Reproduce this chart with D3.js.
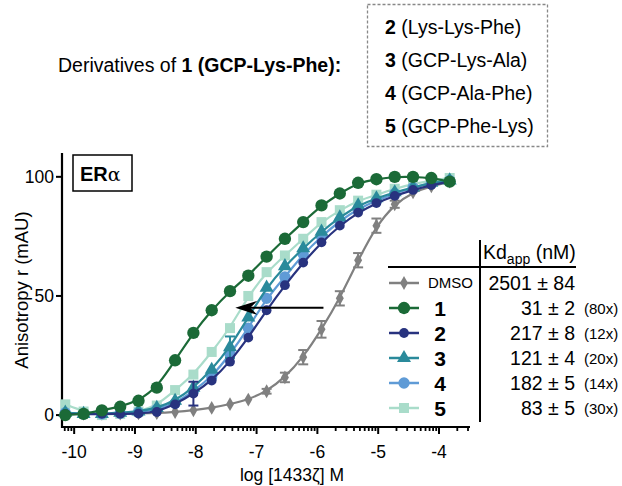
<!DOCTYPE html>
<html>
<head>
<meta charset="utf-8">
<script src="https://cdn.jsdelivr.net/npm/d3@7"></script>
<style>
body{margin:0;background:#fff;}
svg{display:block;font-family:"Liberation Sans",Arial,sans-serif;}
</style>
</head>
<body>
<script>
// log [1433ζ] M, 2-fold dilution series
var logConc = [-10.146, -9.845, -9.544, -9.243, -8.942, -8.641, -8.340, -8.039, -7.738, -7.437, -7.136,
  -6.835, -6.534, -6.233, -5.932, -5.631, -5.330, -5.029, -4.728, -4.427, -4.126, -3.824];

var dmso = [0.5, 0.5, 0.5, 0.6, 0.7, 0.8, 1.3, 2, 3, 4.6, 6.5, 10, 15.8, 24.3, 36, 49, 65, 79.5, 88.5, 93.5, 96, 98];
var dmsoErr = [0, 0, 0, 0, 0, 0, 0, 0, 0, 0, 0, 1, 2, 3, 3.5, 3, 3, 3, 1.5, 0, 0, 0];
var cpd1 = [0, 0.5, 2, 3.5, 6, 11.5, 23, 34.5, 44, 52, 58.5, 66.5, 74, 81, 88, 93, 97.5, 99, 100, 100, 99.5, 98];
var cpd2 = [0.5, 0.3, 0.5, 0.5, 0.6, 1.3, 4.5, 9, 14.5, 22.4, 32.5, 44, 54.5, 64, 72.5, 79.5, 85, 89, 92, 94.5, 96.5, 98];
var cpd2Err = [0, 0, 0, 0, 0, 0, 0, 5, 0, 0, 0, 0, 0, 0, 0, 0, 0, 0, 0, 0, 0, 0];
var cpd3 = [1, 0.5, 0.5, 1, 1.5, 3, 6, 11.5, 19, 28.5, 41, 53.5, 62.5, 70, 77, 83, 88, 91, 93.5, 95.5, 97.5, 98.5];
var cpd3Err = [0, 0, 0, 0, 0, 0, 0, 0, 0, 4.5, 0, 0, 0, 0, 0, 0, 0, 0, 0, 0, 0, 0];
var cpd4 = [1, 0.5, 0.5, 0.8, 1.2, 2.5, 5, 10, 16, 25.5, 36.5, 49, 58, 67.5, 75, 81.5, 86.5, 90, 93, 95.5, 97.5, 98.5];
var cpd5 = [4.5, 1.5, 0, 0.5, 1.5, 4, 10.5, 17, 26.5, 36.5, 50, 60, 67, 74, 81, 86, 90, 92.5, 95, 97, 98.5, 99.5];

var seriesNames = ["DMSO", "1", "2", "3", "4", "5"];
var kdValues = ["2501 ± 84", "31 ± 2", "217 ± 8", "121 ± 4", "182 ± 5", "83 ± 5"];
var foldValues = ["", "(80x)", "(12x)", "(20x)", "(14x)", "(30x)"];
var derivNames = ["(Lys-Lys-Phe)", "(GCP-Lys-Ala)", "(GCP-Ala-Phe)", "(GCP-Phe-Lys)"];
var xTicks = [-10, -9, -8, -7, -6, -5, -4];
var yTicks = [0, 50, 100];

var colors = ["#808080", "#1b6a37", "#28337f", "#2a8a9b", "#5f9bd6", "#a9dcca"];
var shapes = [d3.symbolDiamond, d3.symbolCircle, d3.symbolCircle, d3.symbolTriangle, d3.symbolCircle, d3.symbolSquare];
var sizes = [55, 120, 75, 85, 100, 100];

var series = [
  {vals: dmso, err: dmsoErr},
  {vals: cpd1, err: null},
  {vals: cpd2, err: cpd2Err},
  {vals: cpd3, err: cpd3Err},
  {vals: cpd4, err: null},
  {vals: cpd5, err: null}
];

var svg = d3.select("body").append("svg").attr("width", 622).attr("height", 486);

var x = d3.scaleLinear().domain([-10.2, -3.49]).range([62, 470]);
var y = d3.scaleLinear().domain([-5, 110]).range([427, 153]);

// header text
var title = svg.append("text").attr("x", 58).attr("y", 72).attr("font-size", 19.5);
title.append("tspan").text("Derivatives of ");
title.append("tspan").attr("font-weight", "bold").text("1 (GCP-Lys-Phe):");

svg.append("rect").attr("x", 367.5).attr("y", 4.5).attr("width", 180).attr("height", 142)
  .attr("fill", "none").attr("stroke", "#888").attr("stroke-dasharray", "3,2").attr("stroke-width", 1.3);

derivNames.forEach(function(n, i){
  var t = svg.append("text").attr("x", 385).attr("y", 34 + i * 33).attr("font-size", 19.5);
  t.append("tspan").attr("font-weight", "bold").text(i + 2);
  t.append("tspan").text(" " + n);
});

// axes
var gx = svg.append("g").attr("transform", "translate(0,427)");
gx.append("line").attr("x1", 62).attr("x2", 470).attr("stroke", "#000").attr("stroke-width", 2.2);
var minor = [];
for(var d = -11; d <= -4; d++){
  for(var k = 2; k <= 9; k++){
    var v = d + Math.log10(k);
    if(v > -10.2 && v < -3.49) minor.push(v);
  }
}
gx.selectAll(".mn").data(minor).enter().append("line")
  .attr("x1", function(d){return x(d);}).attr("x2", function(d){return x(d);})
  .attr("y1", 0).attr("y2", 4).attr("stroke", "#000").attr("stroke-width", 1.8);
gx.selectAll(".mj").data(xTicks).enter().append("line")
  .attr("x1", function(d){return x(d);}).attr("x2", function(d){return x(d);})
  .attr("y1", 0).attr("y2", 7).attr("stroke", "#000").attr("stroke-width", 2);
gx.selectAll(".tl").data(xTicks).enter().append("text")
  .attr("x", function(d){return x(d);}).attr("y", 31).attr("text-anchor", "middle")
  .attr("font-size", 17.5).text(function(d){return d;});

var gy = svg.append("g");
gy.append("line").attr("x1", 62).attr("x2", 62).attr("y1", 153).attr("y2", 428).attr("stroke", "#000").attr("stroke-width", 2.2);
gy.selectAll(".yt").data(yTicks).enter().append("line")
  .attr("x1", 56).attr("x2", 62).attr("y1", function(d){return y(d);}).attr("y2", function(d){return y(d);})
  .attr("stroke", "#000").attr("stroke-width", 2);
gy.selectAll(".yl").data(yTicks).enter().append("text")
  .attr("x", 54).attr("y", function(d){return y(d) + 6;}).attr("text-anchor", "end")
  .attr("font-size", 17.5).text(function(d){return d;});

svg.append("text").attr("transform", "translate(28,290) rotate(-90)").attr("text-anchor", "middle")
  .attr("font-size", 18.5).text("Anisotropy r (mAU)");
svg.append("text").attr("x", 292).attr("y", 481).attr("text-anchor", "middle").attr("font-size", 17.5)
  .text("log [1433ζ] M");

// ERα label
svg.append("rect").attr("x", 73).attr("y", 155).attr("width", 59).attr("height", 36)
  .attr("fill", "#fff").attr("stroke", "#000").attr("stroke-width", 1.5);
var er = svg.append("text").attr("x", 80).attr("y", 181).attr("font-size", 20);
er.append("tspan").attr("font-weight", "bold").text("ER");
er.append("tspan").attr("font-family", "'DejaVu Serif',serif").attr("font-size", 19).text("α");

// curves and points
var line = d3.line().x(function(d){return x(d[0]);}).y(function(d){return y(d[1]);}).curve(d3.curveBasis);
var order = [0, 5, 4, 3, 2, 1];
order.forEach(function(si){
  var s = series[si];
  var pts = logConc.map(function(c, i){return [c, s.vals[i], s.err ? s.err[i] : 0];});
  var g = svg.append("g");
  g.append("path").attr("d", line(pts)).attr("fill", "none").attr("stroke", colors[si]).attr("stroke-width", 2.2);
  pts.filter(function(p){return p[2] > 0;}).forEach(function(p){
    var cx = x(p[0]);
    g.append("line").attr("x1", cx).attr("x2", cx).attr("y1", y(p[1] - p[2])).attr("y2", y(p[1] + p[2]))
      .attr("stroke", colors[si]).attr("stroke-width", 2);
    [p[1] - p[2], p[1] + p[2]].forEach(function(e){
      g.append("line").attr("x1", cx - 5).attr("x2", cx + 5).attr("y1", y(e)).attr("y2", y(e))
        .attr("stroke", colors[si]).attr("stroke-width", 2);
    });
  });
  g.selectAll("path.pt").data(pts).enter().append("path").attr("class", "pt")
    .attr("d", d3.symbol().type(shapes[si]).size(sizes[si]))
    .attr("transform", function(d){return "translate(" + x(d[0]) + "," + y(d[1]) + ")";})
    .attr("fill", colors[si]);
});

// shift arrow
var ay = y(45);
svg.append("line").attr("x1", x(-5.9)).attr("x2", x(-7.2)).attr("y1", ay).attr("y2", ay)
  .attr("stroke", "#000").attr("stroke-width", 2);
var tip = x(-7.35);
svg.append("path").attr("d", "M" + tip + "," + ay + " L" + (tip + 22) + "," + (ay - 7) + " L" + (tip + 15) + "," + ay +
  " L" + (tip + 22) + "," + (ay + 7) + " Z").attr("fill", "#000");

// legend table
svg.append("line").attr("x1", 480).attr("x2", 480).attr("y1", 240).attr("y2", 422).attr("stroke", "#000").attr("stroke-width", 2);
svg.append("line").attr("x1", 388).attr("x2", 576).attr("y1", 267).attr("y2", 267).attr("stroke", "#000").attr("stroke-width", 2);
var kd = svg.append("text").attr("x", 483).attr("y", 259).attr("font-size", 19.5);
kd.append("tspan").text("Kd");
kd.append("tspan").attr("font-size", 14).attr("dy", 5).text("app");
kd.append("tspan").attr("dy", -5).text(" (nM)");

seriesNames.forEach(function(n, i){
  var ry = 283 + i * 25;
  svg.append("line").attr("x1", 389).attr("x2", 419).attr("y1", ry).attr("y2", ry)
    .attr("stroke", colors[i]).attr("stroke-width", 2.5);
  svg.append("path").attr("d", d3.symbol().type(shapes[i]).size(sizes[i])())
    .attr("transform", "translate(404," + ry + ")").attr("fill", colors[i]);
  if(i == 0){
    svg.append("text").attr("x", 428).attr("y", ry + 5).attr("font-size", 15).text(n);
  }
  else{
    svg.append("text").attr("x", 440).attr("y", ry + 7.5).attr("text-anchor", "middle")
      .attr("font-size", 21).attr("font-weight", "bold").text(n);
  }
  svg.append("text").attr("x", 575).attr("y", ry + 7).attr("text-anchor", "end").attr("font-size", 19.5).text(kdValues[i]);
  if(foldValues[i]) svg.append("text").attr("x", 584).attr("y", ry + 6).attr("font-size", 15).text(foldValues[i]);
});
</script>
</body>
</html>
